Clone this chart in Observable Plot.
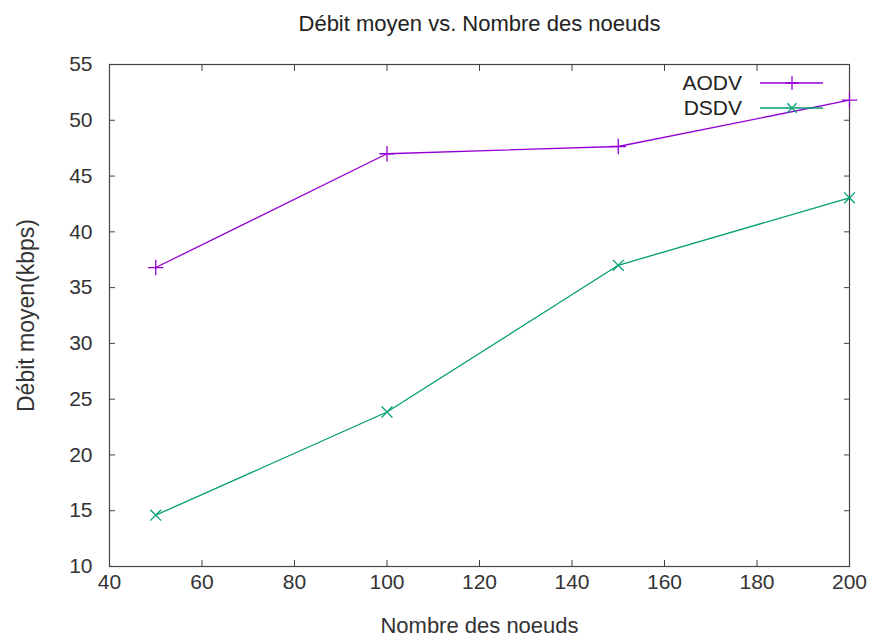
<!DOCTYPE html>
<html>
<head>
<meta charset="utf-8">
<script src="https://cdn.jsdelivr.net/npm/d3@7"></script>
<script src="https://cdn.jsdelivr.net/npm/@observablehq/plot@0.6"></script>
<style>
  html, body { margin: 0; padding: 0; background: #fff; }
  #chart { width: 873px; height: 641px; }
</style>
</head>
<body>
<div id="chart"></div>
<script>
const nodes = [50, 100, 150, 200];
const aodv = [36.8, 47.0, 47.65, 51.8];
const dsdv = [14.6, 23.85, 37.0, 43.05];
const seriesNames = ["AODV", "DSDV"];
const seriesColors = ["#9400d3", "#009e73"];
const seriesSymbols = ["plus", "times"];
const xTicks = [40, 60, 80, 100, 120, 140, 160, 180, 200];
const yTicks = [10, 15, 20, 25, 30, 35, 40, 45, 50, 55];
const title = "Débit moyen vs. Nombre des noeuds";
const xLabel = "Nombre des noeuds";
const yLabel = "Débit moyen(kbps)";

const data = [];
nodes.forEach((n, i) => {
  data.push({series: "AODV", x: n, y: aodv[i]});
  data.push({series: "DSDV", x: n, y: dsdv[i]});
});

const font = "'Liberation Sans', Arial, sans-serif";

const plot = Plot.plot({
  width: 873,
  height: 641,
  marginLeft: 109,
  marginRight: 24,
  marginTop: 64,
  marginBottom: 75,
  style: {fontFamily: font, fontSize: "21px", color: "#333", background: "#fff"},
  x: {domain: [40, 200], ticks: xTicks},
  y: {domain: [10, 55], ticks: yTicks},
  color: {domain: seriesNames, range: seriesColors},
  symbol: {domain: seriesNames, range: seriesSymbols},
  marks: [
    Plot.axisX({anchor: "bottom", ticks: xTicks, tickSize: -6, tickPadding: 14, label: null, stroke: "#444", fontSize: 21}),
    Plot.axisX({anchor: "bottom", ticks: [], label: xLabel, labelAnchor: "center", labelOffset: 66, labelArrow: "none", fontSize: 22}),
    Plot.axisX({anchor: "top", ticks: xTicks, tickSize: -6, tickFormat: () => "", label: null, stroke: "#444"}),
    Plot.axisY({anchor: "left", ticks: yTicks, tickSize: -6, tickPadding: 23, label: null, stroke: "#444", fontSize: 21}),
    Plot.axisY({anchor: "left", ticks: [], label: yLabel, labelAnchor: "center", labelOffset: 92, labelArrow: "none", fontSize: 23}),
    Plot.axisY({anchor: "right", ticks: yTicks, tickSize: -6, tickFormat: () => "", label: null, stroke: "#444"}),
    Plot.frame({stroke: "#444", strokeWidth: 1.2}),
    Plot.line(data, {x: "x", y: "y", z: "series", stroke: "series", strokeWidth: 1.3}),
    Plot.dot(data, {x: "x", y: "y", stroke: "series", symbol: "series", r: 5, strokeWidth: 1.3}),
    Plot.text([title], {frameAnchor: "top", dy: -49, fontSize: 22, fill: "#222"})
  ]
});

// Legend (gnuplot style, inside top-right of the frame)
const svg = d3.select(plot);
const frameRight = 873 - 24;
const frameTop = 64;
const leg = svg.append("g").attr("font-family", font).attr("font-size", 21);
seriesNames.forEach((name, i) => {
  const cy = frameTop + 19 + i * 25;
  leg.append("text").attr("x", frameRight - 107).attr("y", cy).attr("dy", "0.35em")
    .attr("text-anchor", "end").attr("fill", "#222").text(name);
  leg.append("line").attr("x1", frameRight - 89).attr("x2", frameRight - 26)
    .attr("y1", cy).attr("y2", cy).attr("stroke", seriesColors[i]).attr("stroke-width", 1.3);
  const sym = d3.symbol(i === 0 ? d3.symbolPlus : d3.symbolTimes, 60)();
  leg.append("path").attr("d", sym).attr("transform", `translate(${frameRight - 57},${cy})`)
    .attr("fill", "none").attr("stroke", seriesColors[i]).attr("stroke-width", 1.3);
});

document.getElementById("chart").appendChild(plot);
</script>
</body>
</html>
